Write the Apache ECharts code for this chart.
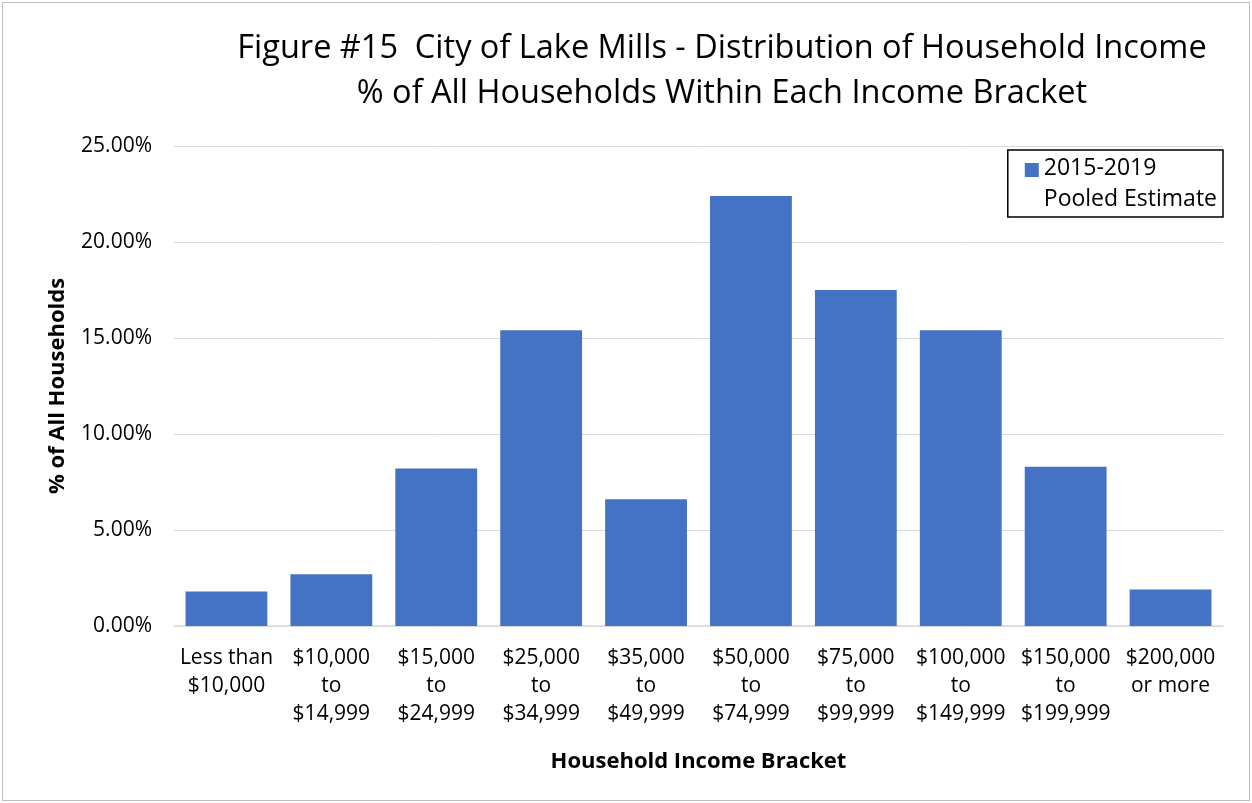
<!DOCTYPE html>
<html>
<head>
<meta charset="utf-8">
<script src="https://cdn.jsdelivr.net/npm/echarts@6/dist/echarts.min.js"></script>
<style>
  html, body { margin: 0; padding: 0; background: #fff; }
  .box {
    position: absolute; left: 2px; top: 2px;
    width: 1246px; height: 797px;
    border: 1px solid #bfbfbf;
  }
</style>
</head>
<body>
<div id="box" class="box"></div>
<script>
// income brackets and share of households (%)
const brackets = [
  'Less than\n$10,000', '$10,000\nto\n$14,999', '$15,000\nto\n$24,999',
  '$25,000\nto\n$34,999', '$35,000\nto\n$49,999', '$50,000\nto\n$74,999',
  '$75,000\nto\n$99,999', '$100,000\nto\n$149,999', '$150,000\nto\n$199,999',
  '$200,000\nor more'
]
const shares = [1.8, 2.7, 8.2, 15.4, 6.6, 22.4, 17.5, 15.4, 8.3, 1.9]
const seriesName = '2015-2019\nPooled Estimate'

const font = 'Open Sans, Noto Sans, sans-serif'
const myEcharts = echarts.init(document.getElementById('box'))
myEcharts.setOption({
  animation: false,
  textStyle: { fontFamily: font },
  title: {
    text: 'Figure #15  City of Lake Mills - Distribution of Household Income\n% of All Households Within Each Income Bracket',
    left: 714, top: 18, textAlign: 'center',
    textStyle: { fontSize: 32.5, fontWeight: 'normal', color: '#000', lineHeight: 45, fontFamily: font }
  },
  legend: {
    right: 26, top: 147,
    orient: 'vertical',
    data: [seriesName],
    // square sits beside the first text line
    icon: 'path://M0,0L14,0L14,14L0,14Z M0,42L14,42Z',
    itemWidth: 14, itemHeight: 42, itemGap: 0,
    borderColor: '#000', borderWidth: 1.5,
    padding: [3, 6, 2, 17],
    textStyle: { fontSize: 23, color: '#000', lineHeight: 31, fontFamily: font }
  },
  grid: { left: 171, right: 26, top: 143, bottom: 174 },
  xAxis: {
    type: 'category',
    data: brackets,
    name: 'Household Income Bracket',
    nameLocation: 'middle', nameGap: 125,
    nameTextStyle: { fontSize: 22, fontWeight: 'bold', color: '#000', fontFamily: font },
    axisTick: { show: false },
    axisLine: { lineStyle: { color: '#d9d9d9', width: 1.5 } },
    axisLabel: { fontSize: 21, color: '#000', lineHeight: 28, interval: 0, margin: 18, fontFamily: font }
  },
  yAxis: {
    type: 'value',
    min: 0, max: 25, interval: 5,
    name: '% of All Households',
    nameLocation: 'middle', nameGap: 105,
    nameTextStyle: { fontSize: 22, fontWeight: 'bold', color: '#000', fontFamily: font },
    axisLabel: { fontSize: 21, color: '#000', margin: 22, formatter: v => v.toFixed(2) + '%', fontFamily: font },
    splitLine: { lineStyle: { color: '#d9d9d9', width: 1 } }
  },
  series: [{
    name: seriesName,
    type: 'bar',
    data: shares,
    barCategoryGap: '22%',
    itemStyle: { color: '#4472c4' }
  }]
})
</script>
</body>
</html>
